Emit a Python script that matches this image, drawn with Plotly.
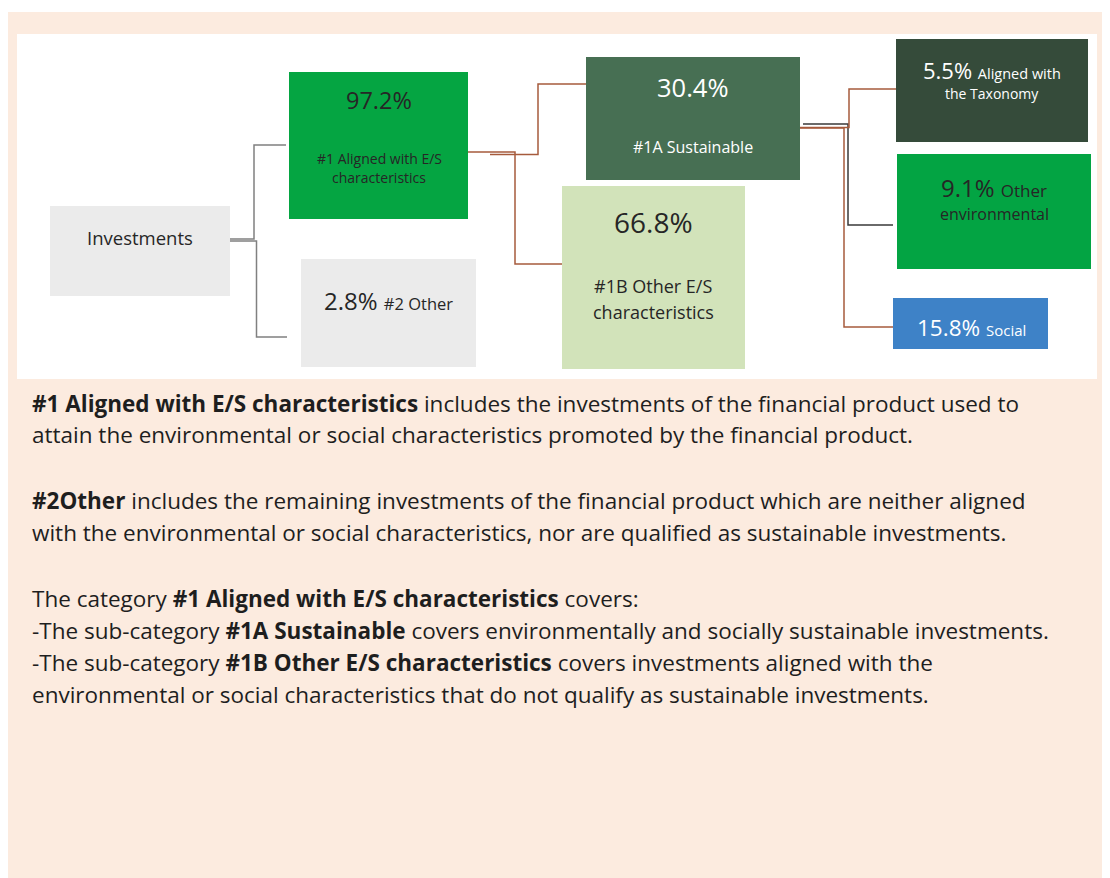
import plotly.graph_objects as go

# ---- data ----
categories = ["Investments", "#1 Aligned with E/S characteristics", "#2 Other",
              "#1A Sustainable", "#1B Other E/S characteristics",
              "Aligned with the Taxonomy", "Other environmental", "Social"]
shares = [None, 97.2, 2.8, 30.4, 66.8, 5.5, 9.1, 15.8]

notes = [
    "<b>#1 Aligned with E/S characteristics</b> includes the investments of the financial product used to",
    "attain the environmental or social characteristics promoted by the financial product.",
    "<b>#2Other</b> includes the remaining investments of the financial product which are neither aligned",
    "with the environmental or social characteristics, nor are qualified as sustainable investments.",
    "The category <b>#1 Aligned with E/S characteristics</b> covers:",
    "-The sub-category <b>#1A Sustainable</b> covers environmentally and socially sustainable investments.",
    "-The sub-category <b>#1B Other E/S characteristics</b> covers investments aligned with the",
    "environmental or social characteristics that do not qualify as sustainable investments.",
]

# ---- layout geometry (pixels of the window) ----
W, H = 1110, 878
OFF = 8  # page body margin
FONT = "Open Sans"
boxes = [  # x0, y0, x1, y1, fill
    (50, 206, 230, 296, "#EBEBEB"),
    (289, 72, 468, 219, "#05A542"),
    (301, 259, 476, 367, "#EBEBEB"),
    (586, 57, 800, 180, "#476F53"),
    (562, 186, 745, 369, "#D2E3BA"),
    (896, 39, 1088, 142, "#354B3A"),
    (897, 154, 1091, 269, "#03A443"),
    (893, 298, 1048, 349, "#3E82C7"),
]

fig = go.Figure()
shapes = []
shapes.append(dict(type="rect", x0=7, y0=12, x1=1112, y1=880, fillcolor="#FCEBDF", line_width=0, layer="below"))
shapes.append(dict(type="rect", x0=17, y0=34, x1=1097, y1=379, fillcolor="#FFFFFF", line_width=0, layer="below"))
for (x0, y0, x1, y1, c) in boxes:
    shapes.append(dict(type="rect", x0=x0, y0=y0, x1=x1, y1=y1, fillcolor=c, line_width=0, layer="below"))

gray, brown, dark = "#808080", "#A65B3C", "#3A3A3A"
def path(pts, color, w=1.5):
    fig.add_trace(go.Scatter(x=[p[0] for p in pts], y=[p[1] for p in pts], mode="lines",
                             line=dict(color=color, width=w), hoverinfo="skip", showlegend=False))

path([(230, 239), (254, 239), (254, 145), (286, 145)], gray)
path([(230, 241), (256.5, 241), (256.5, 337), (287, 337)], gray)
path([(468, 152), (515, 152), (515, 264), (562, 264)], brown)
path([(490, 154.5), (538, 154.5), (538, 84), (586, 84)], brown)
path([(803, 124), (848, 124), (848, 225), (893, 225)], dark)
path([(800, 127.5), (849, 127.5), (849, 89), (896, 89)], brown)
path([(800, 128), (844, 128), (844, 327), (893, 327)], brown)

def txt(x, y, s, size, color="#262626"):
    fig.add_annotation(x=x, y=y, text=s, showarrow=False, xanchor="center", yanchor="middle",
                       font=dict(family=FONT, size=size, color=color))

def pct(v):
    return f"{v:.1f}%"

def mix(v, label, small):
    return f"{pct(v)} <span style='font-size:{small}px'>{label}</span>"

txt(140, 237, categories[0], 18.5)
txt(379, 100, pct(shares[1]), 23.5)
txt(379, 158, "#1 Aligned with E/S", 14)
txt(379, 177, "characteristics", 14)
txt(388, 300, mix(shares[2], categories[2], 16.5), 24)
txt(693, 87, pct(shares[3]), 25.5, "#FFFFFF")
txt(693, 147, categories[3], 16, "#FFFFFF")
txt(653, 222, pct(shares[4]), 28)
txt(653, 286, "#1B Other E/S", 18)
txt(653, 312, "characteristics", 18)
txt(992, 70, mix(shares[5], "Aligned with", 14.5), 22, "#FFFFFF")
txt(992, 93, "the Taxonomy", 14, "#FFFFFF")
txt(994, 187, mix(shares[6], "Other", 17), 24)
txt(994, 214, "environmental", 16)
txt(971, 327, mix(shares[7], categories[7], 15), 22.5, "#FFFFFF")

note_y = [403, 434, 500, 532, 598, 630, 662, 694]
for s, y in zip(notes, note_y):
    fig.add_annotation(x=30, y=y, text=s, showarrow=False, xanchor="left", yanchor="middle",
                       font=dict(family=FONT, size=22.5, color="#1E1E1E"))

fig.update_layout(
    width=W - OFF, height=H - OFF, margin=dict(l=0, r=0, t=0, b=0),
    paper_bgcolor="#FFFFFF", plot_bgcolor="#FFFFFF", shapes=shapes, showlegend=False,
    xaxis=dict(range=[OFF, W], visible=False, fixedrange=True),
    yaxis=dict(range=[H, OFF], visible=False, fixedrange=True),
)
fig.write_html("out.html", config={"displayModeBar": False})
